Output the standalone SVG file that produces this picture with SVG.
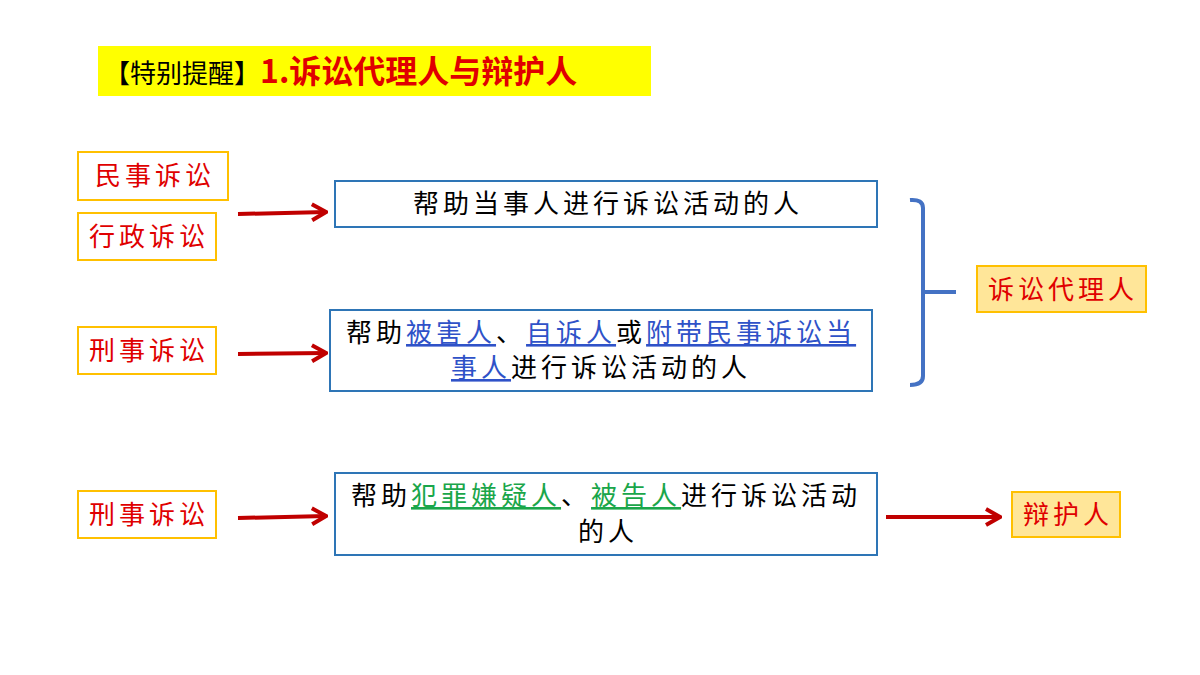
<svg xmlns="http://www.w3.org/2000/svg" width="1200" height="675" viewBox="0 0 1200 675">
<style>
text{font-family:"Noto Sans CJK SC","Noto Sans",sans-serif;font-size:26px;letter-spacing:4px}
.lab{fill:#ffffff;stroke:#FFC000;stroke-width:2}
.res{fill:#FFE699;stroke:#FFC000;stroke-width:2}
.box{fill:#ffffff;stroke:#2E75B6;stroke-width:2}
.red{fill:#E00000}
.blk{fill:#000}
.blue{fill:#2F52C8;text-decoration:underline}
.grn{fill:#1AA64A;text-decoration:underline}
.arr{stroke:#C00000;stroke-width:4;fill:none}
</style>
<defs>
<marker id="ah2" markerWidth="22" markerHeight="22" refX="20" refY="11" orient="auto" markerUnits="userSpaceOnUse">
<path d="M6,3 L20,11 L6,19" fill="none" stroke="#C00000" stroke-width="4"/>
</marker>
</defs>
<rect width="1200" height="675" fill="#fff"/>
<g id="title">
<rect x="98" y="46" width="553" height="50" fill="#FFFF00"/>
<text x="104" y="83" font-size="31" class="blk" style="letter-spacing:0">【特别提醒】<tspan class="red" font-weight="bold" font-size="32">1.诉讼代理人与辩护人</tspan></text>
</g>
<g id="civil"><rect class="lab" x="78" y="152" width="150" height="48"/><text class="red" x="155" y="185" text-anchor="middle">民事诉讼</text></g>
<g id="admin"><rect class="lab" x="78" y="213" width="138" height="47"/><text class="red" x="149" y="246" text-anchor="middle">行政诉讼</text></g>
<g id="crim1"><rect class="lab" x="78" y="327" width="138" height="47"/><text class="red" x="149" y="360" text-anchor="middle">刑事诉讼</text></g>
<g id="crim2"><rect class="lab" x="78" y="491" width="138" height="47"/><text class="red" x="149" y="524" text-anchor="middle">刑事诉讼</text></g>
<g id="box1"><rect class="box" x="335" y="181" width="542" height="46"/><text class="blk" x="608" y="213" text-anchor="middle">帮助当事人进行诉讼活动的人</text></g>
<g id="box2"><rect class="box" x="330" y="310" width="542" height="81"/>
<text x="346" y="342"><tspan class="blk">帮助</tspan><tspan class="blue">被害人</tspan><tspan class="blk">、</tspan><tspan class="blue">自诉人</tspan><tspan class="blk">或</tspan><tspan class="blue">附带民事诉讼当</tspan></text>
<text x="451" y="377"><tspan class="blue">事人</tspan><tspan class="blk">进行诉讼活动的人</tspan></text></g>
<g id="box3"><rect class="box" x="335" y="473" width="542" height="82"/>
<text x="351" y="505"><tspan class="blk">帮助</tspan><tspan class="grn">犯罪嫌疑人</tspan><tspan class="blk">、</tspan><tspan class="grn">被告人</tspan><tspan class="blk">进行诉讼活动</tspan></text>
<text x="608" y="541" text-anchor="middle" class="blk">的人</text></g>
<g id="agent"><rect class="res" x="977" y="266" width="169" height="46"/><text class="red" x="1063" y="299" text-anchor="middle">诉讼代理人</text></g>
<g id="defender"><rect class="res" x="1012" y="492" width="108" height="45"/><text class="red" x="1068" y="524" text-anchor="middle">辩护人</text></g>
<g id="connectors">
<line class="arr" x1="238" y1="214" x2="326" y2="212" marker-end="url(#ah2)"/>
<line class="arr" x1="238" y1="354" x2="326" y2="353" marker-end="url(#ah2)"/>
<line class="arr" x1="238" y1="518" x2="326" y2="516" marker-end="url(#ah2)"/>
<line class="arr" x1="886" y1="517" x2="1000" y2="517" marker-end="url(#ah2)"/>
<path d="M910,200 Q923,199 923,208 L923,376 Q923,385 910,385 M923,292 L956,292" fill="none" stroke="#4472C4" stroke-width="4"/>
</g>
</svg>
